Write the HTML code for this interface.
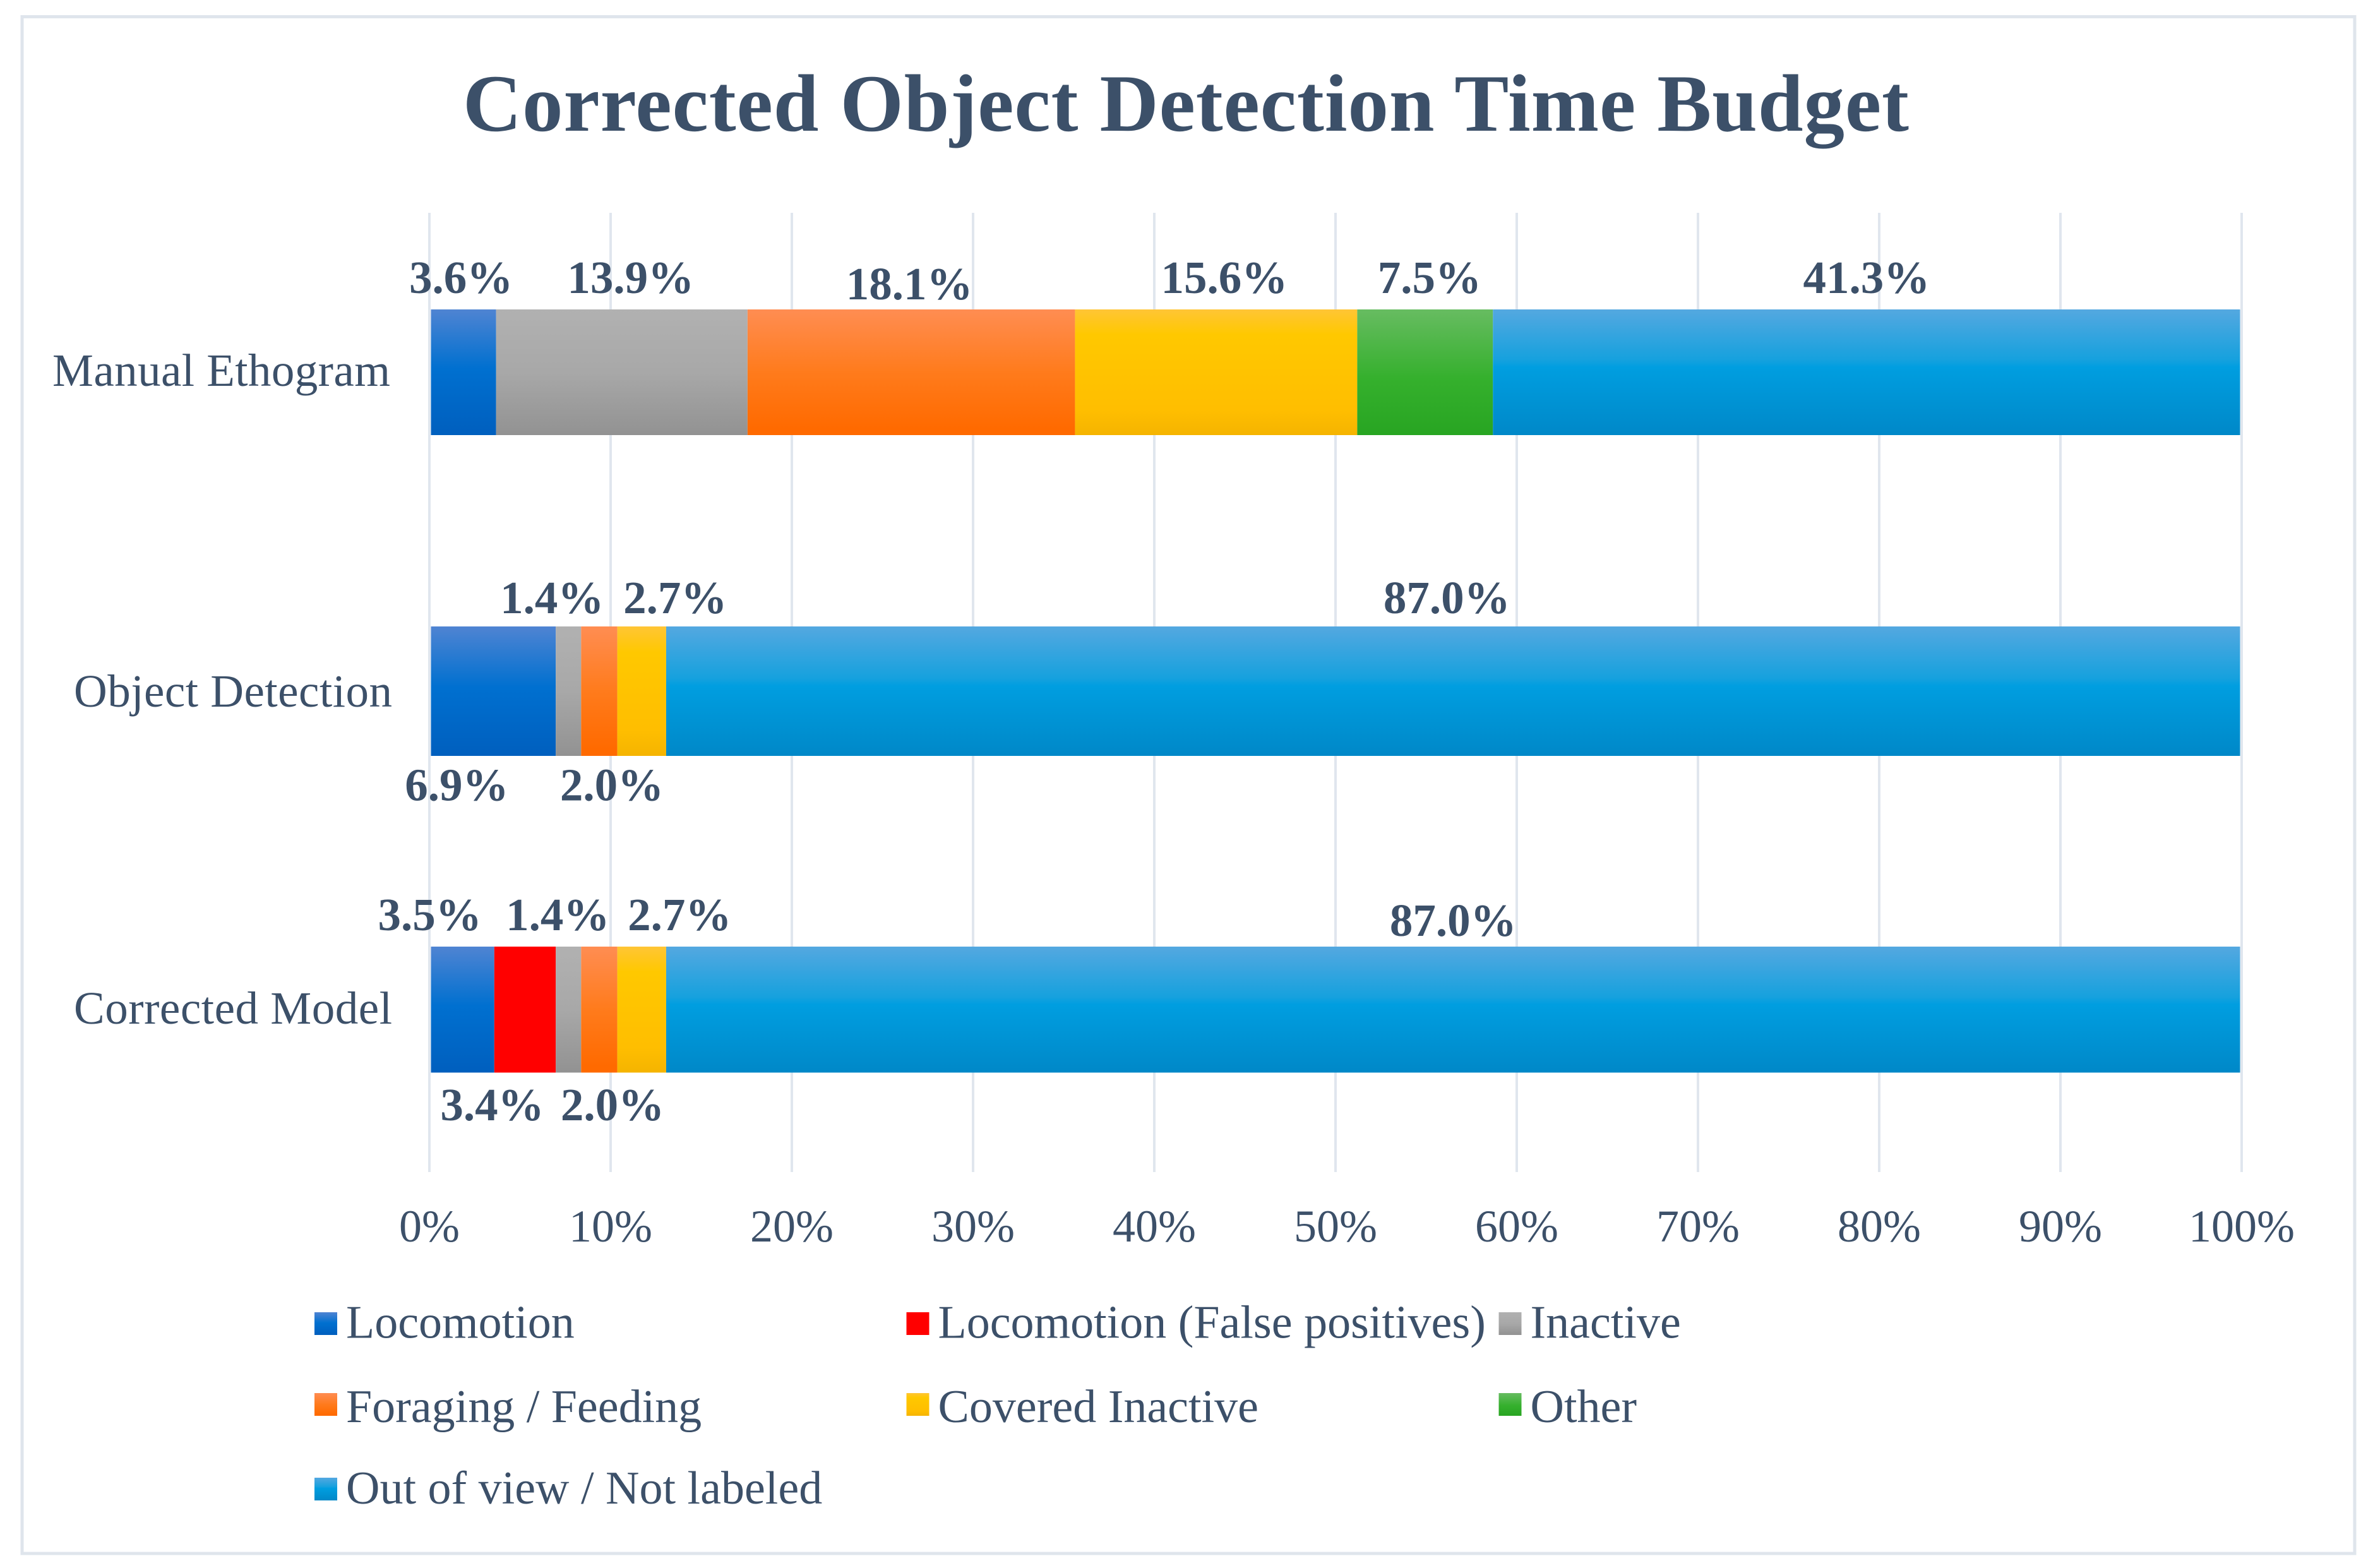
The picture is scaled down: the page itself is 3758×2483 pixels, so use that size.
<!DOCTYPE html>
<html lang="en">
<head>
<meta charset="utf-8">
<title>Corrected Object Detection Time Budget</title>
<style>
  html, body { margin: 0; padding: 0; background: #ffffff; }
  svg { display: block; }
  text { font-family: "Liberation Serif", serif; fill: #3c5069; }
</style>
</head>
<body>
<svg id="chart" xmlns="http://www.w3.org/2000/svg" width="3758" height="2483" viewBox="0 0 3758 2483">
  <defs>
    <linearGradient id="g0" x1="0" y1="0" x2="0" y2="1">
      <stop offset="0" stop-color="#4f84d2"/><stop offset="0.47" stop-color="#0070d0"/><stop offset="1" stop-color="#005fbe"/>
    </linearGradient>
    <linearGradient id="g1" x1="0" y1="0" x2="0" y2="1">
      <stop offset="0" stop-color="#ff0000"/><stop offset="1" stop-color="#ff0000"/>
    </linearGradient>
    <linearGradient id="g2" x1="0" y1="0" x2="0" y2="1">
      <stop offset="0" stop-color="#b1b1b1"/><stop offset="0.5" stop-color="#a8a8a8"/><stop offset="1" stop-color="#929292"/>
    </linearGradient>
    <linearGradient id="g3" x1="0" y1="0" x2="0" y2="1">
      <stop offset="0" stop-color="#ff8d52"/><stop offset="0.5" stop-color="#ff7b1c"/><stop offset="0.95" stop-color="#ff6a00"/><stop offset="1" stop-color="#ff6a00"/>
    </linearGradient>
    <linearGradient id="g4" x1="0" y1="0" x2="0" y2="1">
      <stop offset="0" stop-color="#ffc535"/><stop offset="0.2" stop-color="#ffc800"/><stop offset="0.8" stop-color="#ffbe00"/><stop offset="1" stop-color="#f5b400"/>
    </linearGradient>
    <linearGradient id="g5" x1="0" y1="0" x2="0" y2="1">
      <stop offset="0" stop-color="#67bc61"/><stop offset="0.55" stop-color="#35b02d"/><stop offset="1" stop-color="#28a522"/>
    </linearGradient>
    <linearGradient id="g6" x1="0" y1="0" x2="0" y2="1">
      <stop offset="0" stop-color="#54a8e0"/><stop offset="0.40" stop-color="#16a1de"/><stop offset="0.46" stop-color="#009ee0"/><stop offset="1" stop-color="#0088c8"/>
    </linearGradient>
  </defs>
  <rect x="0" y="0" width="3758" height="2483" fill="#ffffff"/>
  <rect x="35" y="26.5" width="3694" height="2433.5" fill="none" stroke="#dfe5ec" stroke-width="5"/>
  <text x="733" y="207" font-size="129" font-weight="bold" textLength="2290" lengthAdjust="spacing">Corrected Object Detection Time Budget</text>
  <g id="gridlines"></g>
  <g id="bars"></g>
  <g id="value-labels"></g>
  <g id="category-labels"></g>
  <g id="tick-labels"></g>
  <g id="legend"></g>
</svg>
<script>
// ---- chart data ----
const categories = ["Manual Ethogram", "Object Detection", "Corrected Model"];
const seriesNames = ["Locomotion", "Locomotion (False positives)", "Inactive", "Foraging / Feeding", "Covered Inactive", "Other", "Out of view / Not labeled"];
const locomotion = [3.6, 6.9, 3.5];
const locomotionFalsePositives = [0, 0, 3.4];
const inactive = [13.9, 1.4, 1.4];
const foragingFeeding = [18.1, 2.0, 2.0];
const coveredInactive = [15.6, 2.7, 2.7];
const other = [7.5, 0, 0];
const outOfView = [41.3, 87.0, 87.0];
const tickValues = [0, 10, 20, 30, 40, 50, 60, 70, 80, 90, 100];

// ---- layout (not data) ----
const series = [locomotion, locomotionFalsePositives, inactive, foragingFeeding, coveredInactive, other, outOfView];
const SVG_NS = "http://www.w3.org/2000/svg";
const barTops = [490, 992, 1499];
const barBottoms = [689, 1197, 1698.5];
const categoryBaselines = [611, 1119, 1621];
const categoryLefts = [83, 117, 117];
const categoryWidths = [535, 504, 504];
// Hand-placed label nudges, [dx from segment centre, baseline relative to bar middle]
const labelNudges = [
  [[-4, -125.5], [0, 0], [14, -125.5], [-3, -115.5], [13, -125.5], [7, -125.5], [0, -125.5]],
  [[-58, 173], [0, 0], [-26, -123.5], [20, 173], [53, -123.5], [0, 0], [-10, -123.5]],
  [[-52, -126], [-52, 175], [-17, -126], [21, 175], [60, -126], [0, 0], [0, -117]]
];
const legendColumns = [498, 1435.5, 2373.5];
const legendRows = [2078, 2206, 2340];
const legendBaselines = [2118.5, 2252, 2381];

// ---- axis functions ----
function xAxis(v) { return 680 + 28.7 * v; }
function xBar(v) { return 682.5 + 28.65 * v; }
function slug(s) { return s.toLowerCase().replace(/[^a-z0-9]+/g, "-").replace(/^-|-$/g, ""); }
function make(tag, parentId, props, content) {
  const node = document.createElementNS(SVG_NS, tag);
  for (const key in props) { node.setAttribute(key, props[key]); }
  if (content !== undefined) { node.textContent = content; }
  document.getElementById(parentId).appendChild(node);
  return node;
}

// gridlines and tick labels
tickValues.forEach(function (t) {
  const line = make("line", "gridlines", { x1: xAxis(t), x2: xAxis(t), y1: 337, y2: 1856, stroke: "#e0e6ee", "stroke-width": 4 });
  
  
  const label = make("text", "tick-labels", { x: xAxis(t), y: 1966, "font-size": 72, "text-anchor": "middle" }, t + "%");
  
  
});

// bars and value labels
categories.forEach(function (cat, row) {
  const mid = (barTops[row] + barBottoms[row]) / 2;
  let cumulative = 0;
  series.forEach(function (values, s) {
    const v = values[row];
    if (v > 0) {
      const x0 = xBar(cumulative);
      const x1 = xBar(cumulative + v);
      const bar = make("rect", "bars", { x: x0, y: barTops[row], width: x1 - x0, height: barBottoms[row] - barTops[row], fill: "url(#g" + s + ")" });
      
      
      const nudge = labelNudges[row][s];
      const text = make("text", "value-labels", { x: (x0 + x1) / 2 + nudge[0], y: mid + nudge[1], "font-size": 73, "font-weight": "bold", "text-anchor": "middle" }, v.toFixed(1) + "%");
      
      
    }
    cumulative += v;
  });
  const catLabel = make("text", "category-labels", { x: categoryLefts[row], y: categoryBaselines[row], "font-size": 73, textLength: categoryWidths[row], lengthAdjust: "spacing" }, cat);
  
  
});

// legend
seriesNames.forEach(function (name, s) {
  const col = s % 3;
  const row = Math.floor(s / 3);
  const swatch = make("rect", "legend", { x: legendColumns[col], y: legendRows[row], width: 36, height: 36, fill: "url(#g" + s + ")" });
  
  
  const entry = make("text", "legend", { x: legendColumns[col] + 50, y: legendBaselines[row], "font-size": 74 }, name);
  
  
});
</script>
</body>
</html>
